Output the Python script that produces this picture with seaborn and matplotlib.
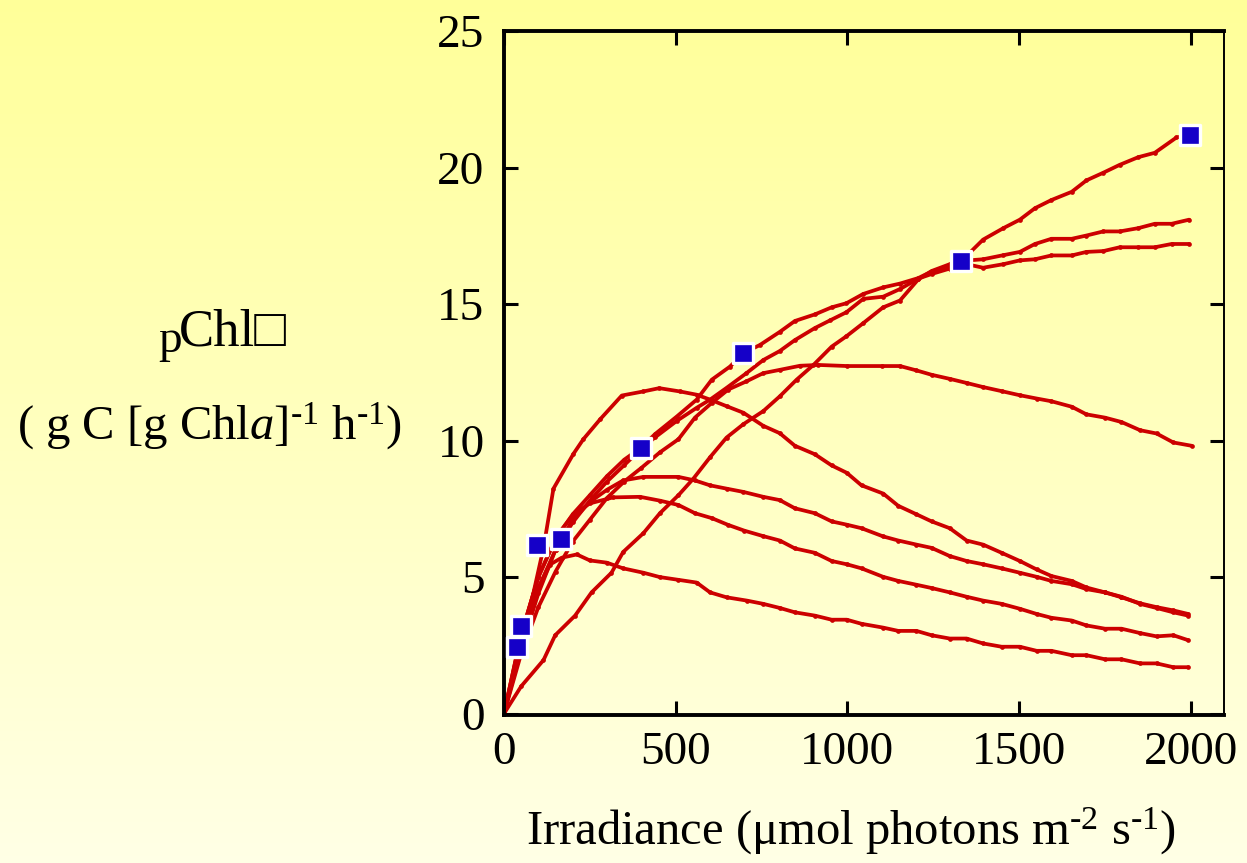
import numpy as np
import pandas as pd
import matplotlib
matplotlib.use("Agg")
import matplotlib.pyplot as plt
import seaborn as sns

# ---------------- data ----------------
a_x = [0, 50, 115, 149, 207, 255, 313, 347, 406, 454, 508, 551, 600, 648, 697, 755, 803, 852, 901, 954, 997, 1046, 1104, 1153, 1206, 1245, 1298, 1332, 1395, 1454, 1502, 1546, 1594, 1653, 1696, 1745, 1793, 1847, 1895, 1958, 1995]
a_y = [0, 1.0, 1.96, 2.87, 3.59, 4.44, 5.16, 5.92, 6.61, 7.34, 8.0, 8.6, 9.39, 10.11, 10.6, 11.08, 11.62, 12.23, 12.77, 13.44, 13.82, 14.3, 14.88, 15.13, 15.9, 16.21, 16.46, 16.58, 17.36, 17.78, 18.09, 18.51, 18.81, 19.11, 19.53, 19.81, 20.1, 20.38, 20.54, 21.1, 21.19]

b_x = [0, 50, 100, 150, 200, 250, 300, 350, 400, 440, 503, 561, 605, 658, 697, 745, 803, 847, 905, 954, 997, 1046, 1104, 1153, 1206, 1245, 1298, 1332, 1395, 1454, 1502, 1546, 1594, 1653, 1696, 1745, 1793, 1847, 1895, 1944, 1995]
b_y = [0, 2.9, 5.0, 6.4, 7.3, 8.0, 8.7, 9.3, 9.75, 10.24, 10.88, 11.5, 12.23, 12.71, 13.2, 13.5, 13.98, 14.38, 14.62, 14.88, 15.03, 15.37, 15.61, 15.75, 15.95, 16.19, 16.39, 16.58, 16.64, 16.79, 16.91, 17.2, 17.39, 17.39, 17.51, 17.66, 17.66, 17.78, 17.94, 17.94, 18.09]

c_x = [0, 50, 100, 150, 200, 250, 300, 350, 400, 440, 503, 561, 600, 648, 706, 755, 803, 847, 905, 949, 997, 1046, 1104, 1153, 1206, 1245, 1298, 1332, 1395, 1454, 1502, 1546, 1594, 1653, 1696, 1745, 1793, 1847, 1895, 1944, 1995]
c_y = [0, 2.6, 4.6, 6.0, 7.0, 7.8, 8.5, 9.1, 9.7, 10.12, 10.72, 11.2, 11.5, 11.93, 12.47, 12.95, 13.28, 13.68, 14.12, 14.4, 14.7, 15.19, 15.27, 15.55, 15.93, 16.1, 16.3, 16.5, 16.33, 16.46, 16.6, 16.64, 16.78, 16.78, 16.91, 16.94, 17.08, 17.08, 17.08, 17.2, 17.2]

d_x = [0, 50, 100, 150, 200, 250, 300, 350, 400, 454, 508, 556, 605, 653, 706, 755, 803, 862, 915, 1000, 1100, 1153, 1201, 1245, 1298, 1347, 1395, 1449, 1502, 1551, 1594, 1653, 1696, 1750, 1798, 1852, 1900, 1949, 2002]
d_y = [0, 2.2, 3.9, 5.2, 6.3, 7.1, 7.9, 8.5, 9.0, 9.57, 10.05, 10.84, 11.38, 11.87, 12.17, 12.47, 12.59, 12.74, 12.77, 12.73, 12.73, 12.73, 12.57, 12.41, 12.26, 12.11, 11.96, 11.81, 11.66, 11.54, 11.44, 11.24, 10.96, 10.84, 10.68, 10.38, 10.26, 9.93, 9.81]

e_x = [0, 50, 85, 115, 144, 202, 231, 280, 343, 406, 452, 512, 561, 600, 648, 697, 755, 803, 847, 905, 954, 998, 1041, 1104, 1148, 1201, 1245, 1298, 1347, 1395, 1449, 1502, 1551, 1594, 1653, 1696, 1750, 1798, 1852, 1900, 1949, 1992]
e_y = [0, 2.8, 4.38, 6.07, 8.24, 9.51, 10.05, 10.78, 11.65, 11.8, 11.92, 11.8, 11.68, 11.5, 11.26, 11.02, 10.54, 10.27, 9.81, 9.5, 9.09, 8.82, 8.36, 8.06, 7.61, 7.3, 7.04, 6.79, 6.34, 6.19, 5.89, 5.59, 5.28, 5.04, 4.86, 4.62, 4.44, 4.26, 4.04, 3.9, 3.78, 3.65]

f_x = [0, 50, 100, 150, 200, 250, 300, 347, 406, 508, 556, 600, 648, 697, 755, 803, 847, 905, 954, 998, 1041, 1104, 1148, 1201, 1245, 1298, 1347, 1395, 1449, 1502, 1551, 1594, 1653, 1696, 1750, 1798, 1852, 1900, 1949, 1992]
f_y = [0, 2.4, 4.4, 6.0, 7.1, 7.75, 8.2, 8.54, 8.67, 8.67, 8.54, 8.36, 8.24, 8.12, 7.94, 7.82, 7.52, 7.34, 7.04, 6.92, 6.79, 6.49, 6.34, 6.19, 6.07, 5.77, 5.59, 5.47, 5.32, 5.16, 5.01, 4.86, 4.74, 4.56, 4.44, 4.28, 4.02, 3.87, 3.71, 3.59]

g_x = [0, 50, 100, 153, 202, 250, 318, 396, 454, 508, 556, 605, 653, 700, 755, 803, 847, 905, 954, 998, 1041, 1104, 1148, 1201, 1245, 1298, 1347, 1395, 1449, 1502, 1551, 1594, 1653, 1696, 1750, 1798, 1852, 1900, 1949, 1992]
g_y = [0, 2.9, 5.0, 6.5, 7.3, 7.7, 7.92, 7.94, 7.8, 7.64, 7.34, 7.16, 6.91, 6.7, 6.5, 6.34, 6.05, 5.89, 5.59, 5.47, 5.32, 5.01, 4.86, 4.72, 4.6, 4.44, 4.28, 4.14, 4.02, 3.84, 3.65, 3.51, 3.41, 3.23, 3.11, 3.11, 2.95, 2.83, 2.87, 2.69]

h_x = [0, 50, 100, 134, 168, 212, 250, 299, 347, 406, 454, 508, 561, 600, 648, 707, 755, 803, 847, 905, 954, 998, 1041, 1104, 1148, 1201, 1245, 1298, 1347, 1395, 1449, 1502, 1551, 1594, 1653, 1696, 1750, 1798, 1852, 1900, 1949, 1992]
h_y = [0, 2.5, 4.6, 5.46, 5.71, 5.83, 5.61, 5.53, 5.32, 5.16, 5.0, 4.9, 4.8, 4.44, 4.26, 4.14, 4.02, 3.87, 3.71, 3.59, 3.44, 3.44, 3.29, 3.15, 3.03, 3.03, 2.87, 2.75, 2.75, 2.57, 2.45, 2.45, 2.3, 2.3, 2.14, 2.14, 1.99, 1.99, 1.84, 1.84, 1.7, 1.7]

ek_x = [38, 49, 96, 166, 399, 695, 1330, 1997]
ek_y = [2.45, 3.22, 6.17, 6.38, 9.72, 13.2, 16.56, 21.2]

x_ticks = [0, 500, 1000, 1500, 2000]
y_ticks = [0, 5, 10, 15, 20, 25]

curves = {"A": (a_x, a_y), "B": (b_x, b_y), "C": (c_x, c_y), "D": (d_x, d_y),
          "E": (e_x, e_y), "F": (f_x, f_y), "G": (g_x, g_y), "H": (h_x, h_y)}
df = pd.concat([pd.DataFrame({"irr": xs, "P": ys, "curve": k}) for k, (xs, ys) in curves.items()],
               ignore_index=True)
ek = pd.DataFrame({"irr": ek_x, "P": ek_y})

# ---------------- style ----------------
sns.set_theme(style="ticks")
plt.rcParams["font.family"] = ["Liberation Serif", "DejaVu Sans"]
plt.rcParams["mathtext.fontset"] = "custom"
plt.rcParams["mathtext.rm"] = "Liberation Serif"
plt.rcParams["mathtext.it"] = "Liberation Serif:italic"
plt.rcParams["mathtext.bf"] = "Liberation Serif:bold"
plt.rcParams["text.color"] = "black"
plt.rcParams["xtick.color"] = "black"
plt.rcParams["ytick.color"] = "black"
plt.rcParams["xtick.labelcolor"] = "black"
plt.rcParams["ytick.labelcolor"] = "black"

W, H = 1247, 863
fig = plt.figure(figsize=(W / 100, H / 100), dpi=100)

# background gradient
bg = fig.add_axes([0, 0, 1, 1], zorder=-10)
top = np.array([1.0, 1.0, 0.60])
bot = np.array([1.0, 1.0, 0.90])
t = np.linspace(0, 1, 256)[:, None]
grad = top[None, :] * (1 - t) + bot[None, :] * t
bg.imshow(grad[:, None, :].repeat(2, axis=1), aspect="auto", extent=[0, 1, 0, 1])
bg.set_axis_off()

ax = fig.add_axes([504 / W, 1 - 715 / H, (1223.5 - 504) / W, (715 - 31) / H])
ax.set_facecolor("none")

red = "#CC0000"
sns.lineplot(data=df, x="irr", y="P", units="curve", estimator=None, sort=False,
             color=red, lw=2.7, marker="o", markersize=3.4, markeredgewidth=0,
             legend=False, ax=ax)
sns.scatterplot(data=ek, x="irr", y="P", marker="s", s=225, color="#1500C8",
                edgecolor="white", linewidth=2.4, zorder=5, ax=ax, legend=False)

ax.set_xlim(0, 2095)
ax.set_ylim(-0.05, 25)
ax.set_xticks(x_ticks)
ax.set_yticks(y_ticks)
ax.set_xlabel("")
ax.set_ylabel("")
ax.tick_params(axis="both", which="major", direction="in", length=10, width=2.2,
               labelsize=34, colors="black", top=True, right=True)
ax.tick_params(axis="x", pad=12)
ax.tick_params(axis="y", pad=14)
for side in ["left", "bottom", "top"]:
    ax.spines[side].set_linewidth(2.8)
    ax.spines[side].set_color("black")
ax.spines["right"].set_linewidth(1.4)
ax.spines["right"].set_color("black")

# axis titles
hy = "\u2010"
fig.text(851 / W, 1 - 845 / H,
         "Irradiance (\u03bcmol photons m$^{\\mathrm{" + hy + "2}}$ s$^{\\mathrm{" + hy + "1}}$)",
         ha="center", va="baseline", fontsize=35, color="black")
fig.text(158 / W, 1 - 352 / H, "p", ha="left", va="baseline", fontsize=34, color="black")
fig.text(179 / W, 1 - 346 / H, "Chl\u25a1", ha="left", va="baseline", fontsize=38,
         family=["Liberation Serif", "DejaVu Sans"], color="black")
fig.text(210 / W, 1 - 440 / H,
         "( g C [g Chl$\\mathit{a}$]$^{\\mathrm{" + hy + "1}}$ h$^{\\mathrm{" + hy + "1}}$)",
         ha="center", va="baseline", fontsize=35, color="black")

fig.savefig("out.png", dpi=100)
